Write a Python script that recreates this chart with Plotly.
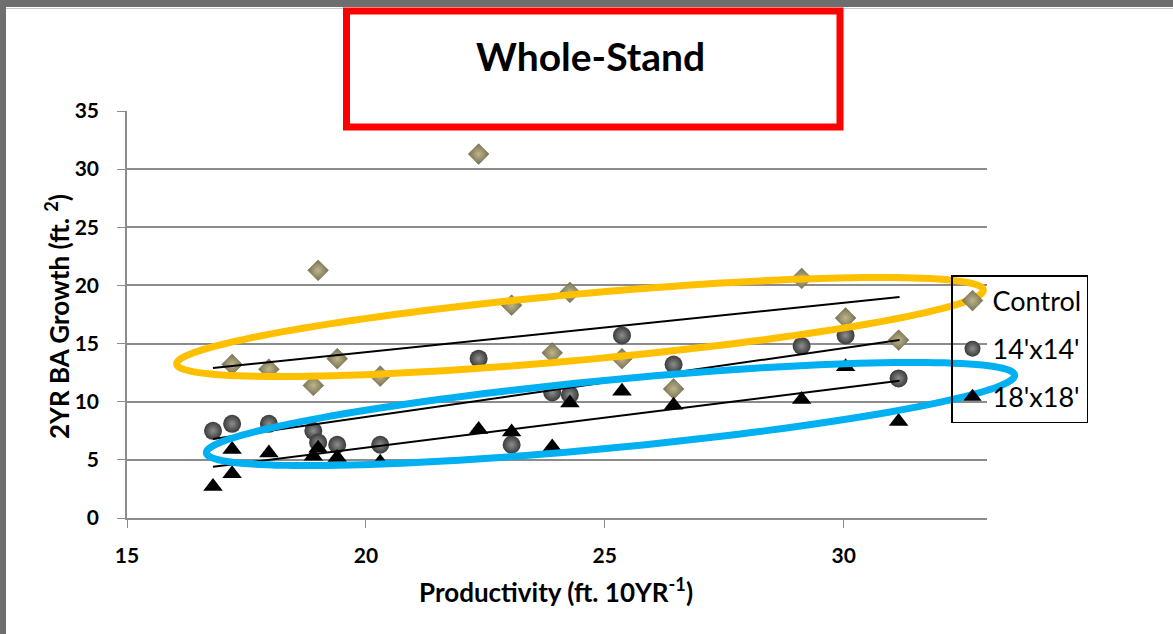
import math
import plotly.graph_objects as go

# ---------------- data ----------------
prod_control = [17.2, 17.97, 18.9, 19.0, 19.4, 20.3, 22.36, 23.05, 23.9, 24.27, 25.36, 26.44, 29.12, 30.04, 31.15]
growth_control = [13.2, 12.8, 11.4, 21.3, 13.7, 12.2, 31.3, 18.3, 14.2, 19.4, 13.7, 11.1, 20.6, 17.2, 15.3]

prod_14 = [16.8, 17.2, 17.97, 18.9, 19.0, 19.4, 20.3, 22.36, 23.05, 23.9, 24.27, 25.36, 26.44, 29.12, 30.04, 31.15]
growth_14 = [7.5, 8.1, 8.1, 7.5, 6.5, 6.3, 6.3, 13.7, 6.3, 10.8, 10.6, 15.7, 13.2, 14.8, 15.7, 12.0]

prod_18 = [16.8, 17.2, 17.2, 17.97, 18.9, 19.0, 19.4, 20.3, 22.36, 23.05, 23.9, 24.27, 25.36, 26.44, 29.12, 30.04, 31.15]
growth_18 = [2.7, 3.8, 5.9, 5.6, 5.3, 6.0, 5.2, 4.8, 7.6, 7.4, 6.1, 9.9, 10.9, 9.7, 10.2, 13.0, 8.3]

trend_x = [16.8, 31.17]
trend_control = [12.9, 19.0]
trend_14 = [6.8, 15.3]
trend_18 = [4.4, 11.8]

series_names = ["Control", "14'x14'", "18'x18'"]
x_ticks = [15, 20, 25, 30]
y_ticks = [0, 5, 10, 15, 20, 25, 30, 35]

# ---------------- layout geometry ----------------
W, H = 1173, 634
L, R, T, B = 127, 987, 111, 518  # plot area in pixels


def px(x):
    return (x - L) / (R - L)


def py(y):
    return (B - y) / (B - T)


def ellipse_path(cx, cy, a, b, deg, n=160):
    th = math.radians(deg)
    pts = []
    for i in range(n):
        t = 2 * math.pi * i / n
        x = cx + a * math.cos(t) * math.cos(th) - b * math.sin(t) * math.sin(th)
        y = cy + a * math.cos(t) * math.sin(th) + b * math.sin(t) * math.cos(th)
        pts.append(f"{px(x):.5f},{py(y):.5f}")
    return "M " + " L ".join(pts) + " Z"


FONT = "Lato, 'Open Sans', sans-serif"

fig = go.Figure()

fig.add_trace(go.Scatter(
    x=prod_control, y=growth_control, mode="markers", name=series_names[0],
    legendgroup="a",
    marker=dict(symbol="diamond", size=16, color="#767050",
                gradient=dict(type="radial", color="#bdb58c"),
                line=dict(width=0.5, color="#6a6444")),
))
fig.add_trace(go.Scatter(
    x=prod_14, y=growth_14, mode="markers", name=series_names[1],
    legendgroup="b",
    marker=dict(symbol="circle", size=18, color="#3a3a3a",
                gradient=dict(type="radial", color="#8e8e8e"),
                line=dict(width=0)),
))
fig.add_trace(go.Scatter(
    x=prod_18, y=growth_18, mode="markers", name=series_names[2],
    legendgroup="c",
    marker=dict(symbol="triangle-up", size=17, color="#000000", line=dict(width=0)),
))

for ty in (trend_control, trend_14, trend_18):
    fig.add_trace(go.Scatter(x=trend_x, y=ty, mode="lines", showlegend=False,
                             line=dict(color="#000000", width=2), hoverinfo="skip"))

shapes = []
# gray frame stripes of the screenshot
shapes.append(dict(type="line", xref="paper", yref="paper", x0=px(0), x1=px(W), y0=py(3.5), y1=py(3.5),
                   line=dict(color="#6e6e6e", width=7), layer="above"))
shapes.append(dict(type="line", xref="paper", yref="paper", x0=px(0), x1=px(W), y0=py(8.5), y1=py(8.5),
                   line=dict(color="#c8c8c8", width=1), layer="above"))
shapes.append(dict(type="rect", xref="paper", yref="paper", x0=px(0), x1=px(6), y0=py(0), y1=py(H),
                   fillcolor="#6e6e6e", line=dict(width=0), layer="above"))
# orange and blue highlight ellipses
shapes.append(dict(type="path", xref="paper", yref="paper",
                   path=ellipse_path(580, 327, 405, 33, -5.25),
                   line=dict(color="#FFC000", width=7), layer="above"))
shapes.append(dict(type="path", xref="paper", yref="paper",
                   path=ellipse_path(610.5, 414, 406, 34, -5.5),
                   line=dict(color="#00B0F0", width=7), layer="above"))
# red title box
shapes.append(dict(type="rect", xref="paper", yref="paper", x0=px(346.5), x1=px(840), y0=py(11), y1=py(127),
                   line=dict(color="#FF0000", width=7), layer="above"))

annotations = [
    dict(text="Whole-Stand", xref="paper", yref="paper", x=px(590), y=py(56), showarrow=False,
         xanchor="center", yanchor="middle", font=dict(family=FONT, size=39, color="#000000", weight="bold")),
    dict(text="Productivity (ft. 10YR<sup>-1</sup>)", xref="paper", yref="paper", x=px(556), y=py(590),
         showarrow=False, xanchor="center", yanchor="middle",
         font=dict(family=FONT, size=26, color="#000000", weight="bold")),
    dict(text="2YR BA Growth (ft. <sup>2</sup>)", xref="paper", yref="paper", x=px(57), y=py(317),
         showarrow=False, xanchor="center", yanchor="middle", textangle=-90,
         font=dict(family=FONT, size=26, color="#000000", weight="bold")),
]

fig.update_layout(
    width=W, height=H,
    margin=dict(l=L, r=W - R, t=T, b=H - B, pad=0),
    paper_bgcolor="#ffffff", plot_bgcolor="#ffffff",
    showlegend=True,
    legend=dict(x=px(951), y=py(275), xanchor="left", yanchor="top",
                bordercolor="#000000", borderwidth=1.5, bgcolor="rgba(255,255,255,0)",
                font=dict(family=FONT, size=27, color="#000000"),
                traceorder="grouped", tracegroupgap=10, itemsizing="trace"),
    shapes=shapes,
    annotations=annotations,
    xaxis=dict(range=[15, 33], tickvals=x_ticks, showgrid=False, zeroline=False,
               showline=True, linecolor="#8c8c8c", linewidth=1.5,
               ticks="outside", ticklen=8, tickcolor="#8c8c8c", tickwidth=1,
               ticklabelstandoff=10,
               tickfont=dict(family=FONT, size=21, color="#000000", weight="bold")),
    yaxis=dict(range=[0, 35], tickvals=y_ticks, showgrid=True, gridcolor="#8c8c8c", gridwidth=1.5,
               zeroline=False, showline=True, linecolor="#8c8c8c", linewidth=1.5,
               ticks="outside", ticklen=8, tickcolor="#8c8c8c", tickwidth=1,
               ticklabelstandoff=14,
               tickfont=dict(family=FONT, size=21, color="#000000", weight="bold")),
)

fig.write_html("out.html", config={"displayModeBar": False},
               post_script="document.body.style.margin='0px';")
